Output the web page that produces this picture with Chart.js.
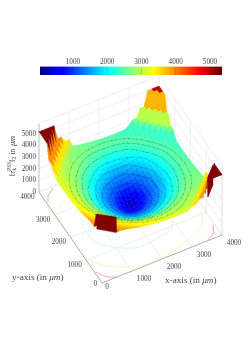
<!DOCTYPE html>
<html><head><meta charset="utf-8">
<style>html,body{margin:0;padding:0;background:#fff}canvas{position:absolute;left:0}</style>
<script src="https://cdn.jsdelivr.net/npm/chart.js@4"></script>
</head><body>
<canvas id="plot" width="249" height="353" style="top:0"></canvas>
<canvas id="bar" width="249" height="30" style="top:58px"></canvas>
<script>
const colorTicks=[1000,2000,3000,4000,5000];
const colorMin=40,colorMax=5350;
const jetStops=[[0,'#00007f'],[0.11,'#0000ff'],[0.125,'#0000ff'],[0.375,'#00ffff'],[0.625,'#ffff00'],[0.875,'#ff0000'],[1,'#5c0000']];
const xTicks=[0,1000,2000,3000,4000];
const yTicks=[0,1000,2000,3000,4000];
const zTicks=[0,1000,2000,3000,4000,5000];
const zTop=5900;
const gridStep=125;
const surfaceZ=[
[5200,5200,5200,5200,3880,3880,3840,3770,3680,3600,3510,3460,3400,3370,3320,3290,3260,3240,3220,3220,3200,3210,3210,3250,3500,3500,3880,3880,5200,5200,5200,5200,5200],
[5200,5200,5200,3880,3880,3810,3730,3620,3530,3460,3400,3340,3300,3250,3210,3170,3150,3120,3110,3100,3100,3090,3100,3110,3130,3500,3500,3880,3880,5200,5200,5200,5200],
[5200,5200,3880,3880,3790,3700,3580,3500,3420,3360,3290,3240,3180,3140,3090,3060,3030,3010,2990,2990,2980,2990,2990,3010,3020,3050,3500,3500,3880,3880,5200,5200,5200],
[5200,3880,3880,3790,3700,3550,3480,3390,3320,3250,3190,3120,3070,3010,2970,2920,2900,2870,2870,2860,2870,2870,2890,2900,2920,2940,2980,3500,3500,3880,3880,5200,5200],
[3880,3880,3790,3700,3550,3470,3360,3280,3190,3100,3010,2930,2840,2770,2720,2680,2660,2660,2670,2700,2740,2800,2830,2860,2880,2890,2900,2920,3500,3500,3880,3880,5200],
[3880,3810,3700,3550,3470,3350,3260,3160,3050,2950,2830,2720,2630,2570,2520,2490,2470,2470,2490,2520,2560,2620,2690,2760,2800,2830,2850,2850,2870,3500,3500,3880,3880],
[3840,3730,3580,3480,3360,3260,3150,3030,2900,2760,2640,2540,2440,2360,2300,2260,2240,2250,2270,2320,2390,2460,2530,2610,2700,2750,2790,2800,2800,2830,3500,3500,3880],
[3770,3620,3500,3380,3280,3160,3030,2890,2720,2590,2460,2330,2220,2140,2080,2040,2020,2030,2060,2120,2190,2270,2380,2470,2560,2660,2720,2750,2770,2760,2800,3500,3500],
[3680,3530,3420,3300,3190,3050,2900,2720,2570,2420,2260,2130,2020,1930,1860,1820,1810,1820,1860,1920,2000,2090,2200,2320,2440,2540,2640,2700,2720,2730,2740,2780,3500],
[3600,3460,3330,3230,3100,2950,2760,2590,2420,2240,2080,1940,1820,1740,1670,1630,1620,1630,1670,1740,1820,1920,2050,2170,2310,2430,2540,2650,2690,2700,2690,2710,2800],
[3510,3400,3280,3150,3010,2830,2640,2460,2260,2080,1920,1770,1660,1560,1470,1420,1400,1420,1470,1560,1660,1770,1900,2040,2180,2330,2450,2570,2640,2670,2660,2680,2710],
[3460,3330,3220,3080,2930,2720,2540,2330,2130,1940,1770,1630,1490,1370,1300,1250,1230,1250,1300,1370,1490,1630,1770,1920,2070,2230,2380,2490,2600,2640,2640,2610,2660],
[3400,3280,3160,3020,2840,2630,2440,2220,2020,1820,1660,1490,1340,1230,1150,1060,1040,1060,1150,1230,1340,1490,1660,1820,1980,2140,2300,2430,2550,2600,2610,2590,2600],
[3370,3240,3110,2970,2770,2570,2360,2140,1930,1740,1560,1370,1230,1090,950,840,800,840,950,1090,1230,1370,1560,1740,1910,2070,2240,2380,2500,2580,2590,2570,2570],
[3320,3200,3080,2930,2720,2520,2300,2080,1860,1670,1470,1300,1150,950,770,650,600,650,770,950,1150,1300,1470,1670,1850,2020,2190,2350,2460,2560,2570,2550,2520],
[3290,3170,3050,2900,2680,2490,2260,2040,1820,1630,1420,1250,1060,840,650,490,420,490,650,840,1060,1250,1420,1630,1820,1990,2150,2320,2430,2540,2550,2530,2490],
[3260,3150,3030,2880,2660,2470,2240,2020,1810,1620,1400,1230,1040,800,600,420,350,420,600,800,1040,1230,1400,1620,1810,1980,2140,2310,2420,2520,2540,2510,2460],
[3240,3130,3010,2870,2660,2470,2250,2030,1820,1630,1420,1250,1060,840,650,490,420,490,650,840,1060,1250,1420,1630,1820,1980,2140,2310,2410,2510,2520,2490,2440],
[3220,3120,3000,2870,2670,2490,2270,2060,1860,1670,1470,1300,1150,950,770,650,600,650,770,950,1150,1300,1470,1670,1850,2010,2160,2310,2420,2500,2500,2470,2420],
[3220,3110,3000,2880,2700,2520,2320,2120,1920,1740,1560,1370,1230,1090,950,840,800,840,950,1090,1230,1370,1560,1740,1900,2050,2200,2330,2430,2490,2480,2440,2420],
[3200,3100,3000,2890,2740,2560,2390,2190,2000,1820,1660,1490,1340,1230,1150,1060,1040,1060,1150,1230,1340,1490,1660,1820,1960,2100,2250,2360,2450,2480,2460,2410,2400],
[3210,3090,3010,2910,2800,2620,2460,2270,2090,1930,1770,1630,1490,1370,1300,1250,1230,1250,1300,1370,1490,1630,1770,1910,2040,2170,2300,2390,2470,2460,2430,2370,2410],
[3210,3100,3010,2930,2830,2690,2530,2380,2200,2050,1900,1770,1660,1560,1470,1420,1400,1420,1470,1560,1660,1770,1890,2000,2120,2250,2340,2420,2460,2440,2400,2370,2410],
[3250,3110,3010,2940,2860,2760,2610,2470,2320,2170,2040,1920,1820,1740,1670,1630,1620,1630,1670,1740,1820,1910,2000,2110,2220,2310,2390,2450,2450,2410,2370,2360,2450],
[3500,3130,3020,2950,2880,2800,2700,2560,2440,2310,2180,2070,1980,1910,1850,1820,1810,1820,1850,1900,1960,2040,2120,2220,2300,2370,2440,2440,2420,2370,2340,2380,2650],
[3500,3500,3050,2950,2890,2830,2750,2660,2540,2430,2330,2230,2140,2070,2020,1990,1980,1980,2010,2050,2100,2170,2250,2310,2370,2430,2440,2420,2380,2330,2350,2650,3000],
[3950,3500,3500,2980,2900,2850,2790,2720,2640,2540,2450,2380,2300,2240,2190,2150,2140,2140,2160,2200,2250,2300,2340,2390,2440,2440,2430,2390,2340,2330,2650,3000,3000],
[3950,3950,3500,3500,2920,2850,2800,2750,2700,2650,2570,2490,2430,2380,2350,2320,2310,2310,2310,2330,2360,2390,2420,2450,2440,2420,2390,2340,2320,2650,3000,3000,3750],
[5200,3950,3950,3500,3500,2870,2800,2770,2720,2690,2640,2600,2550,2500,2460,2430,2420,2410,2420,2430,2450,2470,2460,2450,2420,2380,2340,2320,2650,3000,3000,3750,3750],
[5200,5200,3950,3950,3500,3500,2830,2760,2730,2700,2670,2640,2600,2580,2560,2540,2520,2510,2500,2490,2480,2460,2440,2410,2370,2330,2330,2650,3000,3000,3750,3750,5000],
[5200,5200,5200,3950,3950,3500,3500,2800,2720,2680,2660,2640,2610,2590,2570,2550,2540,2520,2500,2480,2460,2430,2400,2350,2320,2350,2650,3000,3000,3750,3750,5000,5000],
[5200,5200,5200,5200,3950,3950,3500,3500,2780,2710,2650,2610,2590,2570,2550,2530,2510,2490,2470,2440,2410,2370,2350,2360,2380,2650,3000,3000,3750,3750,5000,5000,5000],
[5200,5200,5200,5200,5200,3950,3950,3500,3500,2800,2710,2660,2600,2570,2520,2490,2460,2440,2420,2420,2400,2410,2410,2450,2650,3000,3000,3750,3750,5000,5000,5000,5000]
];
// sheer drops behind the front and right corner peaks
const frontWallX=[0,470,470,0];
const frontWallY=[330,0,0,330];
const frontWallZ=[5300,5200,3860,4000];
const rightWallX=[4000,3530,3530,4000];
const rightWallY=[570,0,0,570];
const rightWallZ=[4900,5460,3750,3200];
const rightCapX=[4000,4000,3530];
const rightCapY=[570,0,0];
const rightCapZ=[4900,5200,5460];
// terrace rims in the bowl: radius (um) from the bowl centre, read at 16 bearings
const ringCentreX=2000,ringCentreY=2000;
const ringRadii=[
[410,430,420,400,410,420,430,410,400,420,410,430,420,410,400,420],
[620,640,630,610,620,640,610,630,620,600,630,640,620,610,630,620],
[830,850,820,840,820,810,840,830,850,820,830,810,840,830,820,840],
[1030,1050,1020,1040,1010,1030,1050,1020,1030,1040,1010,1030,1050,1020,1040,1030],
[1240,1220,1250,1230,1210,1240,1220,1250,1230,1240,1210,1230,1250,1220,1240,1230],
[1430,1450,1420,1440,1410,1430,1450,1420,1440,1430,1410,1450,1420,1440,1430,1420],
[1620,1640,1610,1630,1600,1640,1620,1610,1630,1650,1600,1620,1640,1610,1630,1620],
[1810,1830,1800,1820,1790,1810,1830,1800,1820,1790,1830,1800,1810,1820,1790,1810]
];
const speckDash=[[1,3],[1,4],[1,3,1,6],[1.2,2.5,1,5],[1,4,1.2,7],[1,2.5,1,6],[1.2,5,1,3],[1,3.5,1,7]];
const yellowX=[10,290,760,1300,1850,2410,3000,3400,3775,3880];
const yellowY=[1095,680,300,60,35,90,310,450,780,1160];
const yellowLeftX=[30,260,480];
const yellowLeftY=[2840,3160,3390];
const cyanX=[600,520,650,1100,1640,2250,2730,2990];
const cyanY=[2540,1750,1370,960,720,790,890,1190];
const redFrontX=[40,220,500];
const redFrontY=[460,160,0];
const redLeftX=[50,180,440];
const redLeftY=[3530,3750,3940];
const redRightX=[3540,3800,3950];
const redRightY=[20,180,470];

const view={ox:102,oy:283,xdx:.03,xdy:-.012,ydx:-.01575,ydy:-.02275,zdy:-.0116};
function project(x,y,z){return {x:view.ox+view.xdx*x+view.ydx*y,y:view.oy+view.xdy*x+view.ydy*y+view.zdy*z};}
function jet(v){
  const t=Math.max(0,Math.min(1,(v-colorMin)/(colorMax-colorMin)));
  for(let k=1;k<jetStops.length;k++){
    if(t<=jetStops[k][0]){
      const a=jetStops[k-1],b=jetStops[k],f=(t-a[0])/(b[0]-a[0]||1);
      const pa=parseInt(a[1].slice(1),16),pb=parseInt(b[1].slice(1),16);
      const c=s=>Math.round(((pa>>s)&255)*(1-f)+((pb>>s)&255)*f);
      return `rgb(${c(16)},${c(8)},${c(0)})`;
    }
  }
  return jetStops[jetStops.length-1][1];
}
function surfaceAt(x,y){
  const fi=x/gridStep,fj=y/gridStep,i=Math.floor(fi),j=Math.floor(fj),u=fi-i,v=fj-j;
  const r=surfaceZ[j],n=surfaceZ[j+1];
  return (r[i]*(1-u)+r[i+1]*u)*(1-v)+(n[i]*(1-u)+n[i+1]*u)*v;
}
const datasets=[];
function poly(points,fill,stroke,w,dash,tension){
  datasets.push({data:points,showLine:true,pointRadius:0,borderColor:stroke,borderWidth:w,borderDash:dash||[],
    backgroundColor:fill||'transparent',fill:fill?'shape':false,tension:tension||0});
}
function facet(xs,ys,zs,c){
  const pts=xs.map((x,k)=>project(x,ys[k],zs[k]));pts.push(pts[0]);
  poly(pts,c,c,.4);
}
function cell(i,j){
  const x=i*gridStep,y=j*gridStep,r=surfaceZ[j],n=surfaceZ[j+1];
  const c=jet(r[i]);
  poly([project(x,y,r[i]),project(x+gridStep,y,r[i+1]),project(x+gridStep,y+gridStep,n[i+1]),project(x,y+gridStep,n[i]),project(x,y,r[i])],c,c,.45);
}
function cells(test){for(let j=0;j<surfaceZ.length-1;j++)for(let i=0;i<surfaceZ[j].length-1;i++)if(test(i,j))cell(i,j);}
// the first dataset is painted last, so the nearest marks come first
const peakColour=jet(5200);
facet(frontWallX,frontWallY,frontWallZ,peakColour);
facet(rightCapX,rightCapY,rightCapZ,peakColour);
facet(rightWallX,rightWallY,rightWallZ,peakColour);
cells((i,j)=>i+j<4);
cells((i,j)=>i+j>=4&&i+j<7);
ringRadii.forEach((radii,k)=>{
  const pts=radii.map((r,a)=>{
    const t=a*Math.PI/8,x=ringCentreX+r*Math.cos(t),y=ringCentreY+r*Math.sin(t);
    return project(x,y,surfaceAt(x,y));
  });
  pts.push(pts[0]);
  if(k>=2)poly(pts,null,'rgba(0,30,40,.34)',.9,speckDash[k],.35);
  poly(pts,null,k<3?'rgba(0,0,80,.16)':'rgba(0,50,60,.13)',1.3,[],.35);
});
cells((i,j)=>i+j>=7);
// floor contours
function contour(xs,ys,col,dash){poly(xs.map((x,k)=>project(x,ys[k],0)),null,col,.8,dash,.3);}
contour(redFrontX,redFrontY,'#e9927f');
contour(redLeftX,redLeftY,'#e9927f');
contour(redRightX,redRightY,'#e9927f');
contour(yellowX,yellowY,'#f4f7a6');
contour(yellowLeftX,yellowLeftY,'#f4f7a6',[2,1.5]);
contour(cyanX,cyanY,'#b6f2f6',[2.5,1]);
// axis box
const xM=xTicks[xTicks.length-1],yM=yTicks[yTicks.length-1];
poly([project(0,yM,0),project(0,0,0),project(xM,0,0)],null,'#a8a8a8',.9);
poly([project(0,yM,0),project(0,yM,zTop)],null,'#b0b0b0',.7);
poly([project(xM,0,0),project(xM,0,zTop)],null,'#d8d8d8',.6);
for(const x of xTicks){
  poly([project(x,0,0),project(x,yM,0),project(x,yM,zTop)],null,'#e6e6e6',.6);
}
for(const y of yTicks){
  poly([project(0,y,0),project(xM,y,0),project(xM,y,zTop)],null,'#e6e6e6',.6);
}
for(const z of zTicks){
  poly([project(0,yM,z),project(xM,yM,z),project(xM,0,z)],null,'#e6e6e6',.6);
}
poly([project(0,yM,zTop),project(xM,yM,zTop),project(xM,0,zTop)],null,'#e6e6e6',.6);

const serif='"Liberation Serif","DejaVu Serif",serif';
const labelPlugin={id:'labels',afterDraw(chart){
  const c=chart.ctx,sx=chart.scales.x,sy=chart.scales.y;
  const px=p=>({x:sx.getPixelForValue(p.x),y:sy.getPixelForValue(p.y)});
  c.save();c.fillStyle='#444';c.textBaseline='middle';c.font='7.2px '+serif;
  c.textAlign='center';
  for(const x of xTicks){const p=px(project(x,0,0));c.fillText(String(x),p.x+(x?12:5),p.y+(x?8:4));}
  c.textAlign='right';
  for(const y of yTicks){const p=px(project(0,y,0));c.fillText(String(y),p.x-(y?4.5:5),p.y+(y?5:1));}
  for(const z of zTicks){const p=px(project(0,yTicks[yTicks.length-1],z));c.fillText(String(z),p.x-3,p.y);}
  c.textAlign='left';
  function mixed(parts,x0,y0){
    let x=x0;
    for(const [txt,font,dy,noAdvance] of parts){c.font=font;c.fillText(txt,x,y0+dy);if(!noAdvance)x+=c.measureText(txt).width;}
  }
  const n='9.2px '+serif,it='italic 9.2px '+serif,nz='8.4px '+serif,iz='italic 8.4px '+serif,sm='5.4px '+serif;
  mixed([['y-axis (in ',n,0],['μm',it,0],[')',n,0]],12,278);
  mixed([['x-axis (in ',n,0],['μm',it,0],[')',n,0]],165,281);
  c.translate(12.5,176);c.rotate(-Math.PI/2);
  mixed([['‖r',nz,0],['k',sm,2.5,true],['PSS',sm,-3],['‖',nz,0],['2',sm,2.5],[' in ',nz,0],['μm',iz,0]],0,0);
  c.restore();
}};
new Chart(document.getElementById('plot'),{type:'scatter',data:{datasets},
  options:{responsive:false,animation:false,events:[],devicePixelRatio:1,layout:{padding:0},
    plugins:{legend:{display:false},tooltip:{enabled:false},title:{display:false}},
    elements:{line:{capBezierPoints:false}},
    scales:{x:{type:'linear',min:0,max:249,display:false},y:{type:'linear',min:0,max:353,reverse:true,display:false}}},
  plugins:[labelPlugin]});

new Chart(document.getElementById('bar'),{type:'bar',
  data:{labels:['z'],datasets:[{data:[[colorMin,colorMax]],barPercentage:1,categoryPercentage:1,borderWidth:0,
    backgroundColor(ctx){
      const a=ctx.chart.chartArea;if(!a)return '#00f';
      const g=ctx.chart.ctx.createLinearGradient(a.left,0,a.right,0);
      jetStops.forEach(s=>g.addColorStop(s[0],s[1]));return g;
    }}]},
  options:{indexAxis:'y',responsive:false,animation:false,events:[],devicePixelRatio:1,
    layout:{padding:{left:40,right:27,top:0,bottom:13}},
    plugins:{legend:{display:false},tooltip:{enabled:false}},
    scales:{
      y:{display:false,stacked:false},
      x:{position:'top',min:colorMin,max:colorMax,
        afterBuildTicks(a){a.ticks=colorTicks.map(v=>({value:v}));},
        grid:{drawOnChartArea:true,color:'rgba(0,0,0,.25)',lineWidth:.5,z:1,drawTicks:false},border:{display:false},
        ticks:{color:'#444',font:{family:serif,size:7.2},padding:0,maxRotation:0,autoSkip:false,callback:v=>String(v)}}
    }}});
</script>
</body></html>
